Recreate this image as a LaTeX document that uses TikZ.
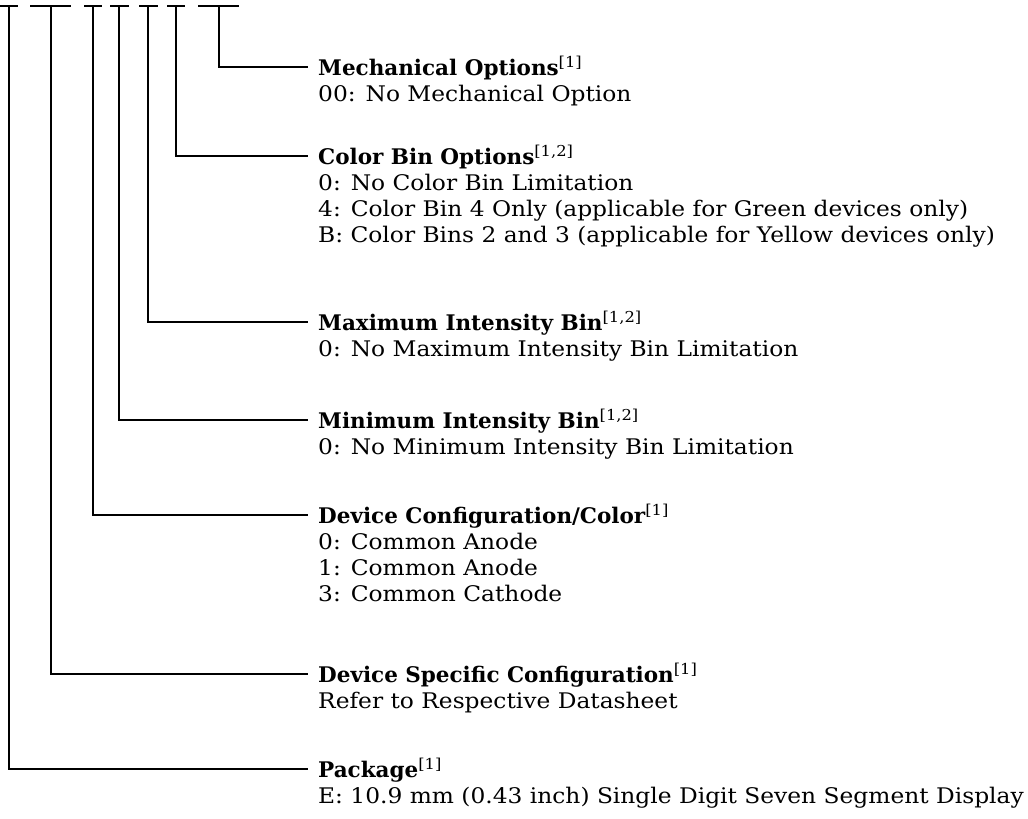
\documentclass[tikz,border=0pt]{standalone}
\usepackage{fontspec}
\setmainfont{DejaVu Serif}
\newfontfamily\bodyfont{DejaVu Serif}[FakeStretch=1.085]
\newfontfamily\headfont{DejaVu Serif Bold}
\begin{document}
\begin{tikzpicture}[x=1pt,y=1pt,
  bar/.style={line width=2.6pt},
  lead/.style={line width=1.2pt},
  head/.style={anchor=base west,inner sep=0pt,font=\fontsize{21.5}{26}\headfont},
  body/.style={anchor=base west,inner sep=0pt,font=\fontsize{21.5}{26}\bodyfont}]
\useasboundingbox (0,0) rectangle (1028,-819);
\newcommand\refs[1]{\textsuperscript{\bodyfont[#1]}}
% bars
\draw[bar] (0,-6) -- (18,-6);
\draw[bar] (30,-6) -- (71,-6);
\draw[bar] (84,-6) -- (102,-6);
\draw[bar] (110,-6) -- (129,-6);
\draw[bar] (139,-6) -- (158,-6);
\draw[bar] (167,-6) -- (185,-6);
\draw[bar] (198,-6) -- (239,-6);
\coordinate (t1) at (9,-6);
\coordinate (t2) at (51,-6);
\coordinate (t3) at (93,-6);
\coordinate (t4) at (119,-6);
\coordinate (t5) at (148,-6);
\coordinate (t6) at (176,-6);
\coordinate (t7) at (219,-6);
% end points
\coordinate (e7) at (308,-67);
\coordinate (e6) at (308,-156);
\coordinate (e5) at (308,-322);
\coordinate (e4) at (308,-420);
\coordinate (e3) at (308,-515);
\coordinate (e2) at (308,-674);
\coordinate (e1) at (308,-769);
\draw[lead] (t7) |- (e7);
\draw[lead] (t6) |- (e6);
\draw[lead] (t5) |- (e5);
\draw[lead] (t4) |- (e4);
\draw[lead] (t3) |- (e3);
\draw[lead] (t2) |- (e2);
\draw[lead] (t1) |- (e1);
% texts
\node[head] (h7) at (318,-75) {Mechanical Options\refs{1}};
\node[body] (b7a) at (318,-101) {00: No Mechanical Option};
\node[head] (h6) at (318,-164) {Color Bin Options\refs{1,2}};
\node[body] (b6a) at (318,-190) {0: No Color Bin Limitation};
\node[body] (b6b) at (318,-216) {4: Color Bin 4 Only (applicable for Green devices only)};
\node[body] (b6c) at (318,-242) {B: Color Bins 2 and 3 (applicable for Yellow devices only)};
\node[head] (h5) at (318,-330) {Maximum Intensity Bin\refs{1,2}};
\node[body] (b5a) at (318,-356) {0: No Maximum Intensity Bin Limitation};
\node[head] (h4) at (318,-428) {Minimum Intensity Bin\refs{1,2}};
\node[body] (b4a) at (318,-454) {0: No Minimum Intensity Bin Limitation};
\node[head] (h3) at (318,-523) {Device Configuration/Color\refs{1}};
\node[body] (b3a) at (318,-549) {0: Common Anode};
\node[body] (b3b) at (318,-575) {1: Common Anode};
\node[body] (b3c) at (318,-601) {3: Common Cathode};
\node[head] (h2) at (318,-682) {Device Specific Configuration\refs{1}};
\node[body] (b2a) at (318,-708) {Refer to Respective Datasheet};
\node[head] (h1) at (318,-777) {Package\refs{1}};
\node[body] (b1a) at (318,-803) {E: 10.9 mm (0.43 inch) Single Digit Seven Segment Display};
\end{tikzpicture}
\end{document}
